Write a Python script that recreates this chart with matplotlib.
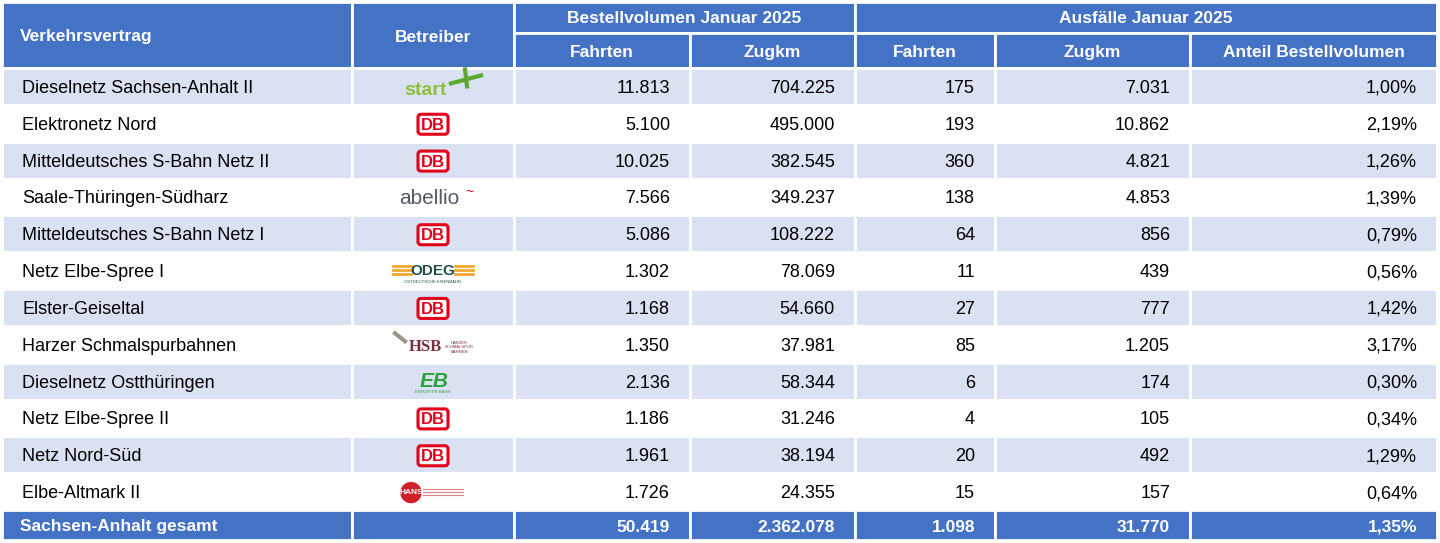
import matplotlib.pyplot as plt
from matplotlib.patches import Rectangle, FancyBboxPatch

vertraege = ["Dieselnetz Sachsen-Anhalt II", "Elektronetz Nord", "Mitteldeutsches S-Bahn Netz II",
             "Saale-Thüringen-Südharz", "Mitteldeutsches S-Bahn Netz I", "Netz Elbe-Spree I",
             "Elster-Geiseltal", "Harzer Schmalspurbahnen", "Dieselnetz Ostthüringen",
             "Netz Elbe-Spree II", "Netz Nord-Süd", "Elbe-Altmark II"]
betreiber = ["start", "DB", "DB", "abellio", "DB", "ODEG", "DB", "HSB", "EB", "DB", "DB", "HANS"]
best_fahrten = ["11.813", "5.100", "10.025", "7.566", "5.086", "1.302", "1.168", "1.350", "2.136", "1.186", "1.961", "1.726"]
best_zugkm = ["704.225", "495.000", "382.545", "349.237", "108.222", "78.069", "54.660", "37.981", "58.344", "31.246", "38.194", "24.355"]
ausf_fahrten = ["175", "193", "360", "138", "64", "11", "27", "85", "6", "4", "20", "15"]
ausf_zugkm = ["7.031", "10.862", "4.821", "4.853", "856", "439", "777", "1.205", "174", "105", "492", "157"]
anteil = ["1,00%", "2,19%", "1,26%", "1,39%", "0,79%", "0,56%", "1,42%", "3,17%", "0,30%", "0,34%", "1,29%", "0,64%"]
gesamt = ["Sachsen-Anhalt gesamt", "", "50.419", "2.362.078", "1.098", "31.770", "1,35%"]

plt.rcParams["font.family"] = "Liberation Sans"
BLUE = "#4472C4"
STRIPE = "#D9E1F2"

fig = plt.figure(figsize=(14.4, 5.43), dpi=100)
ax = fig.add_axes([0, 0, 1, 1])
ax.set_xlim(0, 1440)
ax.set_ylim(543, 0)
ax.axis("off")

cols = [2, 352, 514, 690, 855, 995, 1190, 1437]
h_top, h_mid, h_bot = 2, 33, 68
tot_top, tot_bot = 510, 540
rh = (tot_top - h_bot) / len(vertraege)

def cell(x0, x1, y0, y1, color):
    ax.add_patch(Rectangle((x0, y0), x1 - x0, y1 - y0, facecolor=color, edgecolor="white", lw=2))

# header
cell(cols[0], cols[1], h_top, h_bot, BLUE)
cell(cols[1], cols[2], h_top, h_bot, BLUE)
cell(cols[2], cols[4], h_top, h_mid, BLUE)
cell(cols[4], cols[7], h_top, h_mid, BLUE)
for i in range(2, 7):
    cell(cols[i], cols[i + 1], h_mid, h_bot, BLUE)
hk = dict(color="white", fontsize=12.5, fontweight="bold", va="center")
ax.text(cols[0] + 18, (h_top + h_bot) / 2 + 2, "Verkehrsvertrag", ha="left", **hk)
ax.text((cols[1] + cols[2]) / 2, (h_top + h_bot) / 2 + 2, "Betreiber", ha="center", **hk)
ax.text((cols[2] + cols[4]) / 2, (h_top + h_mid) / 2 + 1, "Bestellvolumen Januar 2025", ha="center", **hk)
ax.text((cols[4] + cols[7]) / 2, (h_top + h_mid) / 2 + 1, "Ausfälle Januar 2025", ha="center", **hk)
for i, lab in zip(range(2, 7), ["Fahrten", "Zugkm", "Fahrten", "Zugkm", "Anteil Bestellvolumen"]):
    ax.text((cols[i] + cols[i + 1]) / 2, (h_mid + h_bot) / 2 + 2, lab, ha="center", **hk)

def logo(name, x, y):
    if name == "DB":
        ax.add_patch(FancyBboxPatch((x - 15, y - 10), 30, 20, boxstyle="round,pad=0,rounding_size=3",
                                    facecolor="white", edgecolor="#E2001A", lw=2.2))
        ax.text(x, y + 1, "DB", color="#E2001A", fontsize=12, fontweight="bold", ha="center", va="center")
    elif name == "start":
        ax.text(x - 8, y + 3, "start", color="#8DBF3A", fontsize=14, fontweight="bold", ha="center", va="center")
        ax.plot([x + 18, x + 48], [y - 4, y - 12], color="#5AAA2E", lw=3)
        ax.plot([x + 32, x + 34], [y - 18, y - 1], color="#5AAA2E", lw=3)
    elif name == "abellio":
        ax.text(x - 4, y + 1, "abellio", color="#505A64", fontsize=15, ha="center", va="center")
        ax.text(x + 36, y - 6, "~", color="#E2001A", fontsize=10, ha="center", va="center")
    elif name == "ODEG":
        ax.text(x, y - 1, "ODEG", color="#1E4E4E", fontsize=11, fontweight="bold", ha="center", va="center")
        for dy in (-5, -1, 3):
            ax.plot([x - 40, x - 22], [y + dy - 1, y + dy - 1], color="#F0A830", lw=2)
            ax.plot([x + 22, x + 40], [y + dy - 1, y + dy - 1], color="#F0A830", lw=2)
        ax.text(x, y + 10, "OSTDEUTSCHE EISENBAHN", color="#1E4E4E", fontsize=3, ha="center", va="center")
    elif name == "HSB":
        ax.text(x - 8, y + 2, "HSB", color="#7A2E3E", fontsize=12, fontweight="bold", family="Liberation Serif",
                ha="center", va="center")
        ax.text(x + 26, y + 2, "HARZER\nSCHMALSPUR\nBAHNEN", color="#7A2E3E", fontsize=3, ha="center", va="center")
        ax.plot([x - 38, x - 28], [y - 12, y - 4], color="#A0968C", lw=3)
    elif name == "EB":
        ax.text(x + 1, y - 1, "EB", color="#2BA23A", fontsize=15, fontweight="bold", style="italic",
                ha="center", va="center")
        ax.text(x, y + 10, "ERFURTER BAHN", color="#2BA23A", fontsize=3, ha="center", va="center")
    elif name == "HANS":
        ax.add_patch(plt.Circle((x - 22, y), 10, color="#D0202A"))
        ax.text(x - 22, y, "HANS", color="white", fontsize=6, fontweight="bold", ha="center", va="center")
        for dy in (-4, -1, 2):
            ax.plot([x - 10, x + 30], [y + dy, y + dy], color="#E8808A", lw=0.8)

rk = dict(color="black", fontsize=13, va="center")
for r in range(len(vertraege)):
    y0 = h_bot + r * rh
    y1 = y0 + rh
    yc = (y0 + y1) / 2
    color = STRIPE if r % 2 == 0 else "white"
    for i in range(7):
        cell(cols[i], cols[i + 1], y0, y1, color)
    ax.text(cols[0] + 20, yc + 2, vertraege[r], ha="left", **rk)
    logo(betreiber[r], (cols[1] + cols[2]) / 2, yc + 1)
    for i, v in zip(range(2, 7), [best_fahrten[r], best_zugkm[r], ausf_fahrten[r], ausf_zugkm[r], anteil[r]]):
        ax.text(cols[i + 1] - 20, yc + 2, v, ha="right", **rk)

# total row
yc = (tot_top + tot_bot) / 2
for i in range(7):
    cell(cols[i], cols[i + 1], tot_top, tot_bot, BLUE)
ax.text(cols[0] + 18, yc + 2, gesamt[0], ha="left", **hk)
for i in range(2, 7):
    ax.text(cols[i + 1] - 20, yc + 2, gesamt[i], ha="right", **hk)

fig.savefig("out.png", dpi=100)
